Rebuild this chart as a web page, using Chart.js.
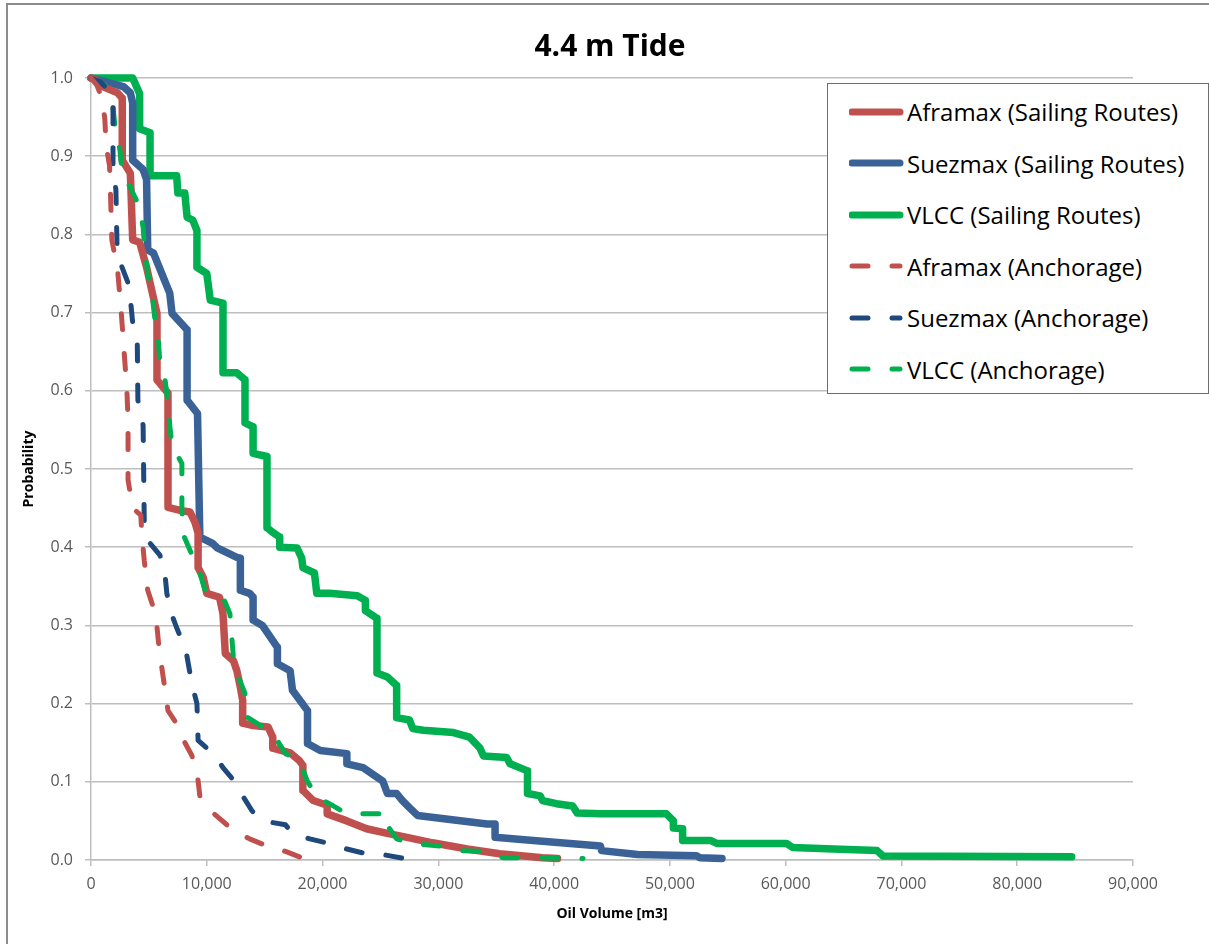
<!DOCTYPE html>
<html>
<head>
<meta charset="utf-8">
<title>4.4 m Tide</title>
<script src="https://cdn.jsdelivr.net/npm/chart.js@4.4.1/dist/chart.umd.min.js"></script>
<style>
  html, body { margin: 0; padding: 0; background: #fff; }
  body { width: 1209px; height: 944px; position: relative; overflow: hidden; }
  #frame {
    position: absolute; left: 6px; top: 3px; width: 1300px; height: 1000px;
    border-left: 2px solid #8c8c8c; border-top: 2px solid #8c8c8c;
  }
  #tide { position: absolute; left: 0; top: 0; }
  #heading {
    position: absolute; left: 410px; width: 400px; top: 24px; text-align: center;
    font-family: 'Open Sans', sans-serif; font-weight: bold; font-size: 30px; line-height: 42px; color: #000;
  }
  #legend {
    position: absolute; left: 827px; top: 83px; width: 380px; height: 307px;
    border: 1px solid #6e6e6e; background: #fff; padding-top: 2px;
    font-family: 'Open Sans', sans-serif; font-size: 24px; color: #000;
  }
  #legend .row { height: 51.5px; display: flex; align-items: center; padding-left: 21px; white-space: nowrap; }
  #legend svg { display: block; flex: none; }
</style>
</head>
<body>
<div id="frame"></div>
<canvas id="tide" width="1209" height="944"></canvas>
<div id="heading">4.4 m Tide</div>
<div id="legend"></div>
<script>
// exceedance curves, oil volume [m3] against probability
const aframaxSailingX = [0, 350, 1000, 2300, 2700, 2700, 3400, 3600, 4200, 4800, 5300, 5700, 5700, 6650, 6650, 7700, 8550, 9000, 9250, 9250, 9700, 10000, 11100, 11400, 11600, 12300, 12600, 12900, 13100, 13100, 14000, 15300, 15700, 15700, 17200, 18000, 18300, 18300, 19200, 20400, 20400, 22100, 23800, 25600, 27300, 29500, 32500, 35300, 39000, 40300];
const aframaxSailingY = [1.0, 0.998, 0.989, 0.981, 0.974, 0.895, 0.878, 0.793, 0.790, 0.758, 0.725, 0.699, 0.614, 0.597, 0.451, 0.447, 0.445, 0.431, 0.418, 0.374, 0.361, 0.341, 0.336, 0.315, 0.264, 0.255, 0.242, 0.221, 0.204, 0.175, 0.172, 0.170, 0.157, 0.143, 0.137, 0.127, 0.121, 0.089, 0.076, 0.070, 0.059, 0.050, 0.040, 0.034, 0.029, 0.022, 0.014, 0.008, 0.003, 0.002];

const suezmaxSailingX = [0, 2800, 3400, 3600, 3600, 4500, 4800, 4900, 5400, 6800, 7000, 8300, 8300, 9200, 9400, 10500, 10900, 12600, 12900, 12900, 13700, 14000, 14000, 14800, 16100, 16100, 17200, 17400, 18700, 18700, 19800, 22100, 22100, 23500, 25200, 25600, 26400, 26900, 27500, 28200, 34200, 34900, 34900, 38200, 44000, 44100, 47200, 52300, 52600, 54500];
const suezmaxSailingY = [1.0, 0.989, 0.981, 0.968, 0.895, 0.883, 0.870, 0.780, 0.776, 0.725, 0.699, 0.678, 0.588, 0.571, 0.413, 0.405, 0.399, 0.387, 0.386, 0.345, 0.341, 0.336, 0.307, 0.300, 0.272, 0.251, 0.242, 0.217, 0.191, 0.149, 0.140, 0.136, 0.123, 0.118, 0.101, 0.085, 0.085, 0.076, 0.067, 0.057, 0.046, 0.046, 0.029, 0.025, 0.018, 0.012, 0.007, 0.0055, 0.003, 0.002];

const vlccSailingX = [0, 3600, 4200, 4200, 5100, 5100, 7400, 7500, 8100, 8300, 8800, 9150, 9150, 10000, 10300, 11400, 11400, 12600, 13300, 13300, 14000, 14000, 15200, 15200, 15700, 16300, 16300, 17800, 18200, 18300, 19300, 19500, 20600, 23000, 23700, 23700, 24700, 24700, 25600, 26400, 26400, 27500, 27800, 28700, 31300, 32700, 33600, 33900, 35900, 36200, 37700, 37700, 38800, 39000, 40200, 41600, 42000, 44000, 49700, 50300, 50300, 51100, 51100, 53500, 54100, 60100, 60600, 64100, 67900, 68400, 84700];
const vlccSailingY = [1.0, 1.0, 0.98, 0.935, 0.93, 0.875, 0.875, 0.853, 0.853, 0.822, 0.818, 0.805, 0.758, 0.75, 0.716, 0.712, 0.623, 0.623, 0.614, 0.559, 0.554, 0.520, 0.516, 0.425, 0.419, 0.413, 0.400, 0.399, 0.386, 0.374, 0.367, 0.341, 0.341, 0.338, 0.332, 0.319, 0.309, 0.239, 0.234, 0.223, 0.182, 0.179, 0.168, 0.166, 0.163, 0.157, 0.143, 0.133, 0.131, 0.123, 0.114, 0.085, 0.082, 0.076, 0.072, 0.069, 0.060, 0.059, 0.059, 0.050, 0.041, 0.040, 0.025, 0.025, 0.021, 0.021, 0.016, 0.014, 0.012, 0.005, 0.004];

const aframaxAnchorageX = [0, 500, 1000, 1200, 1300, 1600, 1700, 1800, 2300, 2600, 2850, 3100, 3200, 3200, 3600, 4300, 4400, 4600, 4900, 5600, 5900, 6400, 6650, 7500, 8000, 8700, 9150, 9400, 10300, 12300, 13700, 15200, 16800, 18000, 19800];
const aframaxAnchorageY = [1.0, 0.991, 0.972, 0.946, 0.914, 0.888, 0.844, 0.793, 0.754, 0.703, 0.652, 0.601, 0.562, 0.486, 0.450, 0.441, 0.415, 0.383, 0.345, 0.313, 0.268, 0.217, 0.191, 0.172, 0.153, 0.134, 0.114, 0.082, 0.063, 0.038, 0.027, 0.018, 0.011, 0.004, 0.002];

const suezmaxAnchorageX = [0, 800, 1500, 1900, 1900, 2150, 2250, 2600, 3200, 3450, 3600, 4000, 4050, 4500, 4600, 5100, 5950, 6400, 6550, 6900, 7400, 8200, 8700, 9150, 9250, 10700, 11400, 12500, 13100, 13900, 14850, 16800, 17400, 18900, 20600, 22100, 23500, 25200, 27000];
const suezmaxAnchorageY = [1.0, 0.995, 0.985, 0.966, 0.886, 0.857, 0.784, 0.761, 0.738, 0.710, 0.687, 0.659, 0.588, 0.556, 0.434, 0.405, 0.390, 0.364, 0.341, 0.317, 0.297, 0.268, 0.226, 0.200, 0.153, 0.134, 0.118, 0.099, 0.082, 0.063, 0.050, 0.045, 0.034, 0.027, 0.021, 0.014, 0.009, 0.007, 0.002];

const vlccAnchorageX = [0, 1200, 1900, 2100, 2500, 2700, 3400, 4200, 4500, 4650, 4900, 5300, 5500, 5800, 5950, 6400, 6650, 6800, 7000, 7850, 7850, 8000, 8550, 9250, 9850, 11400, 12000, 12300, 12600, 13300, 13550, 15700, 16800, 18000, 18650, 19500, 20600, 22100, 25600, 25600, 26400, 27800, 30100, 31900, 33900, 35600, 42500];
const vlccAnchorageY = [1.0, 0.991, 0.963, 0.934, 0.908, 0.878, 0.860, 0.835, 0.809, 0.780, 0.750, 0.720, 0.694, 0.669, 0.635, 0.614, 0.584, 0.556, 0.530, 0.507, 0.447, 0.415, 0.396, 0.374, 0.345, 0.336, 0.315, 0.259, 0.239, 0.213, 0.182, 0.162, 0.136, 0.127, 0.102, 0.080, 0.072, 0.059, 0.059, 0.044, 0.027, 0.021, 0.018, 0.012, 0.011, 0.003, 0.002];

const labels = [
  'Aframax (Sailing Routes)', 'Suezmax (Sailing Routes)', 'VLCC (Sailing Routes)',
  'Aframax (Anchorage)', 'Suezmax (Anchorage)', 'VLCC (Anchorage)'
];

const RED = '#C0504D';
const BLUE = '#3A6297';
const NAVY = '#1F497D';
const GREEN = '#00B050';
const DASH = [16, 24];

function toPoints(xs, ys) {
  return xs.map((x, i) => ({ x: x, y: ys[i] }));
}

function series(label, xs, ys, color, dashed) {
  return {
    label: label,
    data: toPoints(xs, ys),
    borderColor: color,
    backgroundColor: color,
    borderWidth: dashed ? 5 : 7.5,
    borderDash: dashed ? DASH : [],
    borderCapStyle: 'round',
    borderJoinStyle: 'round',
    pointRadius: 0,
    tension: 0,
    fill: false,
    clip: false,
    order: dashed ? 0 : 1,
  };
}

function buildLegend(chart) {
  const box = document.querySelector('#legend');
  chart.data.datasets.forEach(ds => {
    const row = document.createElement('div');
    row.className = 'row';
    const dash = ds.borderDash.length ? ` stroke-dasharray="${ds.borderDash.join(' ')}"` : '';
    row.innerHTML =
      `<svg width="58" height="12"><line x1="3" y1="6" x2="51" y2="6" stroke="${ds.borderColor}" ` +
      `stroke-width="${ds.borderDash.length ? 5 : 7}" stroke-linecap="round"${dash}/></svg>` +
      `<span>${ds.label}</span>`;
    box.appendChild(row);
  });
}

const tickFont = { family: "'Open Sans', sans-serif", size: 16 };
const titleFont = { family: "'Open Sans', sans-serif", size: 14, weight: 'bold' };

const ctx = document.querySelector('#tide');
const tideChart = new Chart(ctx, {
  type: 'line',
  data: {
    datasets: [
      series(labels[0], aframaxSailingX, aframaxSailingY, RED, false),
      series(labels[1], suezmaxSailingX, suezmaxSailingY, BLUE, false),
      series(labels[2], vlccSailingX, vlccSailingY, GREEN, false),
      series(labels[3], aframaxAnchorageX, aframaxAnchorageY, RED, true),
      series(labels[4], suezmaxAnchorageX, suezmaxAnchorageY, NAVY, true),
      series(labels[5], vlccAnchorageX, vlccAnchorageY, GREEN, true),
    ]
  },
  options: {
    responsive: false,
    animation: false,
    devicePixelRatio: 1,
    layout: { padding: { left: 0, right: 76, top: 78, bottom: 0 } },
    plugins: {
      legend: { display: false },
      tooltip: { enabled: false },
      title: { display: false },
    },
    scales: {
      x: {
        type: 'linear',
        min: 0,
        max: 90000,
        afterFit: scale => { scale.height = 84; },
        ticks: {
          stepSize: 10000,
          color: '#595959',
          font: tickFont,
          padding: 9,
          maxRotation: 0,
          callback: v => v.toLocaleString('en-US'),
        },
        grid: { drawOnChartArea: false, drawTicks: true, tickLength: 6, color: '#BEBEBE', lineWidth: 1.5 },
        border: { color: '#BEBEBE', width: 1.5 },
        title: {
          display: true,
          text: 'Oil Volume [m3]',
          color: '#000',
          font: titleFont,
          padding: { top: 0, bottom: 22 },
        },
      },
      y: {
        type: 'linear',
        min: 0,
        max: 1,
        afterFit: scale => { scale.width = 91; },
        ticks: {
          stepSize: 0.1,
          color: '#595959',
          font: tickFont,
          padding: 12,
          callback: v => v.toFixed(1),
        },
        grid: { color: '#BEBEBE', lineWidth: 1.5, tickLength: 6 },
        border: { color: '#BEBEBE', width: 1.5 },
        title: {
          display: true,
          text: 'Probability',
          color: '#000',
          font: titleFont,
          padding: { top: 21, bottom: 0 },
        },
      },
    },
  },
});

buildLegend(tideChart);
</script>
</body>
</html>
